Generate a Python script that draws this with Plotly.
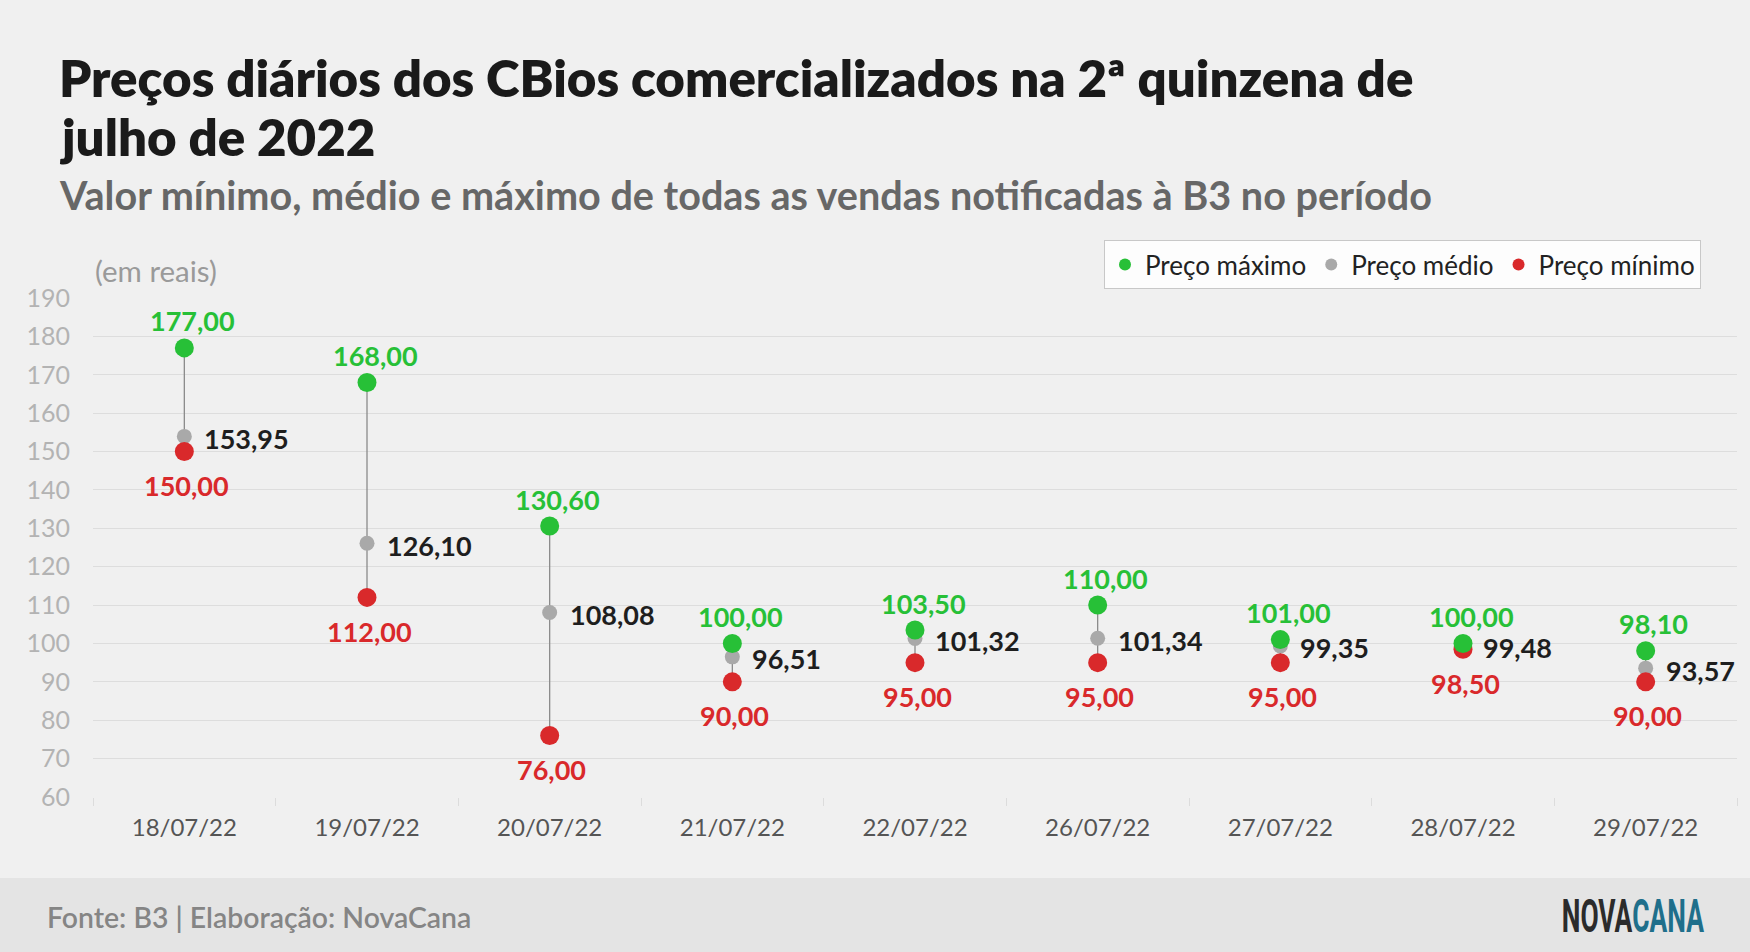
import plotly.graph_objects as go

# ---------------- data ----------------
dates = ["18/07/22", "19/07/22", "20/07/22", "21/07/22", "22/07/22",
         "26/07/22", "27/07/22", "28/07/22", "29/07/22"]
preco_max = [177.00, 168.00, 130.60, 100.00, 103.50, 110.00, 101.00, 100.00, 98.10]
preco_med = [153.95, 126.10, 108.08, 96.51, 101.32, 101.34, 99.35, 99.48, 93.57]
preco_min = [150.00, 112.00, 76.00, 90.00, 95.00, 95.00, 95.00, 98.50, 90.00]
y_ticks = [60, 70, 80, 90, 100, 110, 120, 130, 140, 150, 160, 170, 180, 190]

title_lines = ["Preços diários dos CBios comercializados na 2ª quinzena de", "julho de 2022"]
subtitle = "Valor mínimo, médio e máximo de todas as vendas notificadas à B3 no período"
unit_label = "(em reais)"
source = "Fonte: B3 | Elaboração: NovaCana"
logo_a, logo_b = "NOVA", "CANA"

# ---------------- style ----------------
W, H = 1750, 952
L, R, T, B = 93, 13, 298, 155
PW, PH = W - L - R, H - T - B
FONT = "Lato"
GREEN = "#27c037"
RED = "#d9292b"
GREY = "#a9a9a9"
BG = "#f0f0f0"


def fx(px):
    return (px - L) / PW


def fy(py):
    return (H - B - py) / PH


def fmt(v):
    return f"{v:.2f}".replace(".", ",")


fig = go.Figure()

# connecting lines min -> max
lx, ly = [], []
for d, lo, hi in zip(dates, preco_min, preco_max):
    lx += [d, d, None]
    ly += [lo, hi, None]
fig.add_trace(go.Scatter(x=lx, y=ly, mode="lines", line=dict(color="#8a8a8a", width=1.3),
                         hoverinfo="skip", showlegend=False))

fig.add_trace(go.Scatter(x=dates, y=preco_med, mode="markers", name="Preço médio",
                         marker=dict(color=GREY, size=15), showlegend=False, cliponaxis=False))
fig.add_trace(go.Scatter(x=dates, y=preco_min, mode="markers", name="Preço mínimo",
                         marker=dict(color=RED, size=19), showlegend=False, cliponaxis=False))
fig.add_trace(go.Scatter(x=dates, y=preco_max, mode="markers", name="Preço máximo",
                         marker=dict(color=GREEN, size=19), showlegend=False, cliponaxis=False))

# legend-only entries
for nm, col in [("Preço máximo", GREEN), ("Preço médio", GREY), ("Preço mínimo", RED)]:
    fig.add_trace(go.Scatter(x=[None], y=[None], mode="markers", name=nm,
                             marker=dict(color=col, size=12), showlegend=True))

annotations = []
for d, hi, me, lo in zip(dates, preco_max, preco_med, preco_min):
    annotations.append(dict(x=d, y=hi, xref="x", yref="y", text=fmt(hi), showarrow=False,
                            yshift=27, xshift=8, yanchor="middle",
                            font=dict(family=FONT, size=27, color=GREEN, weight="bold")))
    annotations.append(dict(x=d, y=me, xref="x", yref="y", text=fmt(me), showarrow=False,
                            xshift=18, yshift=-2, xanchor="left", yanchor="middle",
                            font=dict(family=FONT, size=27, color="#1e1e1e", weight="bold")))
    annotations.append(dict(x=d, y=lo, xref="x", yref="y", text=fmt(lo), showarrow=False,
                            yshift=-34, xshift=2, yanchor="middle",
                            font=dict(family=FONT, size=27, color=RED, weight="bold")))

annotations += [
    dict(x=fx(57), y=fy(45), xref="paper", yref="paper", xanchor="left", yanchor="top",
         text=title_lines[0], showarrow=False, align="left",
         font=dict(family=FONT, size=51, color="#1a1a1a", weight=800)),
    dict(x=fx(57), y=fy(104), xref="paper", yref="paper", xanchor="left", yanchor="top",
         text=title_lines[1], showarrow=False, align="left",
         font=dict(family=FONT, size=51, color="#1a1a1a", weight=800)),
    dict(x=fx(57), y=fy(169), xref="paper", yref="paper", xanchor="left", yanchor="top",
         text=subtitle, showarrow=False, align="left",
         font=dict(family=FONT, size=39.6, color="#676767", weight="bold")),
    dict(x=fx(93), y=fy(270), xref="paper", yref="paper", xanchor="left", yanchor="middle",
         text=unit_label, showarrow=False,
         font=dict(family=FONT, size=29.5, color="#9a9a9a")),
    dict(x=fx(45), y=fy(917), xref="paper", yref="paper", xanchor="left", yanchor="middle",
         text=source, showarrow=False,
         font=dict(family=FONT, size=28.4, color="#858585", weight=600)),
    dict(x=fx(1705), y=fy(916), xref="paper", yref="paper", xanchor="right", yanchor="middle",
         text=logo_a + "<span style='color:#1f6f8b'>" + logo_b + "</span>", showarrow=False,
         font=dict(family="Roboto", size=46, color="#2b2b2b", weight="bold")),
]

shapes = [
    dict(type="rect", xref="paper", yref="paper", x0=fx(-5), x1=fx(W + 5), y0=fy(878), y1=fy(H + 5),
         fillcolor="#e4e4e4", line=dict(width=0), layer="below"),
]

fig.update_layout(
    width=W, height=H,
    margin=dict(l=L, r=R, t=T, b=B, autoexpand=False),
    paper_bgcolor=BG, plot_bgcolor=BG,
    font=dict(family=FONT),
    showlegend=True,
    legend=dict(orientation="h", x=fx(1701), xanchor="right", y=fy(240), yanchor="top",
                bgcolor="#fdfdfd", bordercolor="#c8c8c8", borderwidth=1,
                font=dict(family=FONT, size=26, color="#222222"), traceorder="normal",
                itemwidth=30),
    xaxis=dict(type="category", categoryorder="array", categoryarray=dates,
               range=[-0.5, len(dates) - 0.5], showgrid=False, zeroline=False,
               tickson="boundaries", ticks="outside", ticklen=8, tickcolor="#dcdcdc",
               tickwidth=1, showline=False,
               tickfont=dict(family=FONT, size=24, color="#555555"), ticklabelstandoff=14),
    yaxis=dict(range=[60, 190], tickvals=y_ticks, showgrid=True, gridcolor="#dddddd",
               gridwidth=1, zeroline=False, showline=False, ticks="",
               tickfont=dict(family=FONT, size=25, color="#b3b3b3"), ticklabelstandoff=22),
    annotations=annotations,
    shapes=shapes,
    hovermode=False,
)

post_js = """
document.body.style.margin='0';
document.body.style.background='#f0f0f0';
var gd=document.getElementById('{plot_id}');
gd.querySelectorAll('text.annotation-text').forEach(function(t){
  if(t.textContent.replace(/\\s/g,'')==='NOVACANA'){
    var bb=t.getBBox(); var s=142/bb.width;
    t.style.transformBox='fill-box'; t.style.transformOrigin='100% 50%';
    t.style.transform='scaleX('+s+')';
  }
});
"""

fig.write_html("out.html", config={"displayModeBar": False}, post_script=post_js)
